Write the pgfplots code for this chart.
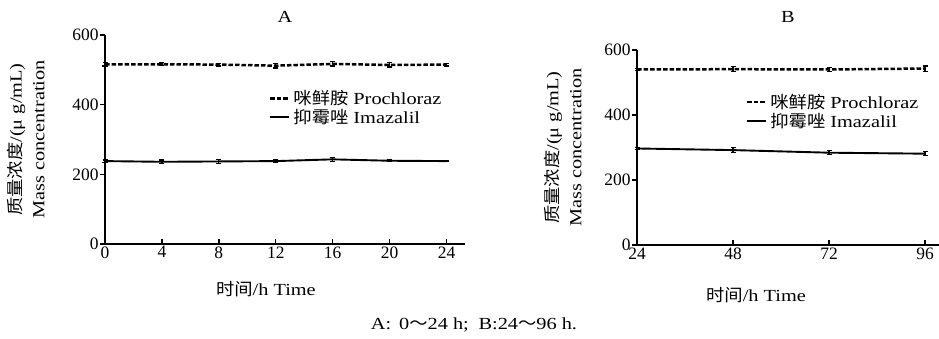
\documentclass[border=0pt]{standalone}
\usepackage{fontspec}
\setmainfont{Liberation Serif}[FakeStretch=1.2]
\newfontfamily\tickfont{Liberation Serif}
\newfontfamily\cjk{Noto Sans CJK SC}[FakeStretch=1.08]
\usepackage{pgfplots}
\pgfplotsset{compat=1.18}
\begin{document}
\begin{tikzpicture}[x=1bp,y=1bp]
\useasboundingbox (0bp,0bp) rectangle (939bp,339bp);
\pgfplotsset{
  mystyle/.style={
    scale only axis,
    axis x line*=bottom, axis y line*=left,
    axis line style={line width=1.8bp, -},
    xtick align=inside, ytick align=outside,
    major tick length=5bp,
    tick style={line width=1.4bp, black},
    ymin=0, ymax=600, ytick={0,200,400,600},
    /pgf/number format/assume math mode=true,
    tick label style={font=\fontsize{17.5}{19}\tickfont},
    label style={font=\fontsize{17}{23}\selectfont},
    xticklabel style={yshift=1bp},
    yticklabel style={xshift=2bp},
    clip=false,
    legend cell align=left,
    legend style={draw=none, fill=none, font=\fontsize{17}{19}\selectfont, row sep=-1bp, inner sep=0pt,
      /tikz/every odd column/.append style={column sep=1bp}},
    legend image code/.code={\draw[#1] (0bp,0bp) -- (19bp,0bp);},
    error bars/y dir=both, error bars/y explicit,
    error bars/error bar style={line width=1.2bp},
    error bars/error mark options={rotate=90, mark size=2.5bp, line width=1.2bp},
  },
  dashline/.style={black, line width=2.5bp, dash pattern=on 4.5bp off 2bp},
  solidline/.style={black, line width=1.9bp},
}
% Panel A
\begin{axis}[mystyle, at={(105bp,95bp)}, anchor=origin,
  width=360bp, height=209bp,
  xmin=0, xmax=25.3, xtick={0,4,8,12,16,20,24},
  xlabel={{\cjk 时间}/h Time},
  xlabel style={at={(axis description cs:0.447,-0.215)}, anchor=center},
  ylabel={{\cjk 质量浓度}/(μ g/mL)\\Mass concentration},
  ylabel style={align=center, at={(axis description cs:-0.158,0.5)}, anchor=south},
  legend style={at={(axis description cs:0.455,0.745)}, anchor=north west},
]
\addplot[dashline, error bars/error bar style={solid, line width=1.2bp}] coordinates {
 (0,516) +- (0,5) (4,516) +- (0,4) (8,515) +- (0,4) (12,512) +- (0,7)
 (16,517) +- (0,6) (20,514) +- (0,6) (24,515) +- (0,4)};
\addlegendentry{{\cjk 咪鲜胺} Prochloraz}
\addplot[solidline] coordinates {
 (0,238) +- (0,3) (4,236) +- (0,5) (8,237) +- (0,5) (12,238) +- (0,5)
 (16,243) +- (0,6) (20,239) +- (0,2) (24,238) +- (0,2)};
\addlegendentry{{\cjk 抑霉唑} Imazalil}
\end{axis}
% Panel B
\begin{axis}[mystyle, at={(637bp,94bp)}, anchor=origin,
  width=302bp, height=195bp,
  xmin=24, xmax=99.5, xtick={24,48,72,96},
  xlabel={{\cjk 时间}/h Time},
  xlabel style={at={(axis description cs:0.394,-0.258)}, anchor=center},
  ylabel={{\cjk 质量浓度}/(μ g/mL)\\Mass concentration},
  ylabel style={align=center, at={(axis description cs:-0.172,0.5)}, anchor=south},
  legend style={at={(axis description cs:0.36,0.785)}, anchor=north west},
]
\addplot[dashline, error bars/error bar style={solid, line width=1.2bp}] coordinates {
 (24,540) +- (0,3) (48,541) +- (0,7) (72,540) +- (0,6) (96,543) +- (0,8)};
\addlegendentry{{\cjk 咪鲜胺} Prochloraz}
\addplot[solidline] coordinates {
 (24,297) +- (0,3) (48,292) +- (0,8) (72,284) +- (0,6) (96,281) +- (0,6)};
\addlegendentry{{\cjk 抑霉唑} Imazalil}
\end{axis}
\node[font=\fontsize{17}{19}\selectfont] at (285bp,322bp) {A};
\node[font=\fontsize{17}{19}\selectfont] at (788bp,322bp) {B};
\node[font=\fontsize{17}{19}\selectfont] at (474bp,14bp) {A:\, 0{\cjk ～}24 h;\; B:24{\cjk ～}96 h.};
\end{tikzpicture}
\end{document}
